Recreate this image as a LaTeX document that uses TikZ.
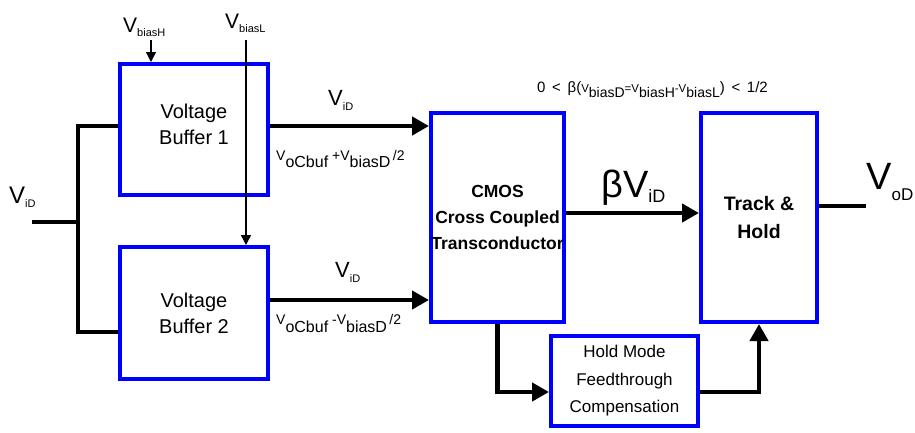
\documentclass[tikz,border=0pt]{standalone}
\usepackage{fontspec}
\setmainfont{Liberation Sans}
\usetikzlibrary{arrows.meta}
\definecolor{boxblue}{RGB}{0,0,255}
\newcommand{\fsz}[1]{\fontsize{#1}{#1}\selectfont}
\newcommand{\lowr}[3]{\raisebox{-#1}{\fsz{#2}#3}}
\begin{document}
\begin{tikzpicture}[x=1pt,y=-1pt,
  blk/.style={draw=boxblue, line width=4pt, fill=white, align=center, inner sep=0pt},
  wire/.style={line width=4.5pt},
  bigarrow/.style={wire, -{Triangle[length=17pt,width=18pt]}},
  thinline/.style={line width=1.4pt},
  thinarrow/.style={thinline, -{Triangle[length=10pt,width=10pt]}},
  lbl/.style={inner sep=0pt, anchor=base west}
]
\useasboundingbox (0,0) rectangle (915,432);

% blocks
\node[blk, minimum width=148pt, minimum height=131pt, font=\fontsize{20}{26}\selectfont] (buf1) at (194,129.5) {Voltage\\Buffer 1\\[-16pt]\mbox{}};
\node[blk, minimum width=148pt, minimum height=132pt, font=\fontsize{20}{26}\selectfont] (buf2) at (194,313) {Voltage\\Buffer 2};
\node[blk, minimum width=133pt, minimum height=209pt, font=\bfseries\fontsize{17.5}{26}\selectfont] (cmos) at (497.5,217.5) {CMOS\\Cross Coupled\\Transconductor};
\node[blk, minimum width=116pt, minimum height=209pt, font=\bfseries\fontsize{19.5}{28}\selectfont] (th) at (759,217.5) {Track \&\\Hold};
\node[blk, minimum width=147pt, minimum height=90pt, font=\fontsize{17}{27.5}\selectfont] (hold) at (624.5,381) {Hold Mode\\Feedthrough\\Compensation};

% coordinates
\coordinate (vin) at (32,222);
\coordinate (jm) at (78,222);
\coordinate (j1) at (78,126);
\coordinate (j2) at (78,332);
\coordinate (hb) at (151,40);
\coordinate (lb) at (246,40);
\coordinate (a1) at (0,126);
\coordinate (a2) at (0,300);
\coordinate (bv) at (0,213);
\coordinate (vout) at (866,206);

% input
\draw[wire] (vin) -- (jm);
\draw[wire, line join=miter] (buf1.west |- j1) -- (j1) -- (j2) -- (buf2.west |- j2);

% bias lines
\draw[thinarrow] (hb) -- (hb |- buf1.north);
\draw[thinarrow] (lb) -- (lb |- buf2.north);

% main arrows
\draw[bigarrow] (buf1.east |- a1) -- (cmos.west |- a1);
\draw[bigarrow] (buf2.east |- a2) -- (cmos.west |- a2);
\draw[bigarrow] (cmos.east |- bv) -- (th.west |- bv);
\draw[wire] (th.east |- vout) -- (vout);

% feedthrough path
\draw[bigarrow] (cmos.south) |- ([yshift=-11pt]hold.west);
\draw[bigarrow] ([yshift=-11pt]hold.east) -| (th.south);

% labels
\node[lbl] (l-vid) at (9,203) {\fsz{24}V\lowr{4pt}{11}{iD}};
\node[lbl] (l-vbh) at (123,32) {\fsz{21}V\lowr{4pt}{11}{biasH}};
\node[lbl] (l-vbl) at (225,28) {\fsz{21}V\lowr{4pt}{11}{biasL}};
\node[lbl] (l-vid1) at (328,105) {\fsz{22}V\lowr{5pt}{11}{iD}};
\node[lbl] (l-vid2) at (335,277) {\fsz{22}V\lowr{5pt}{11}{iD}};
\node[lbl] (l-oc1) at (276,160) {\fsz{14}V\lowr{7pt}{16}{oCbuf}\ +V\lowr{7pt}{16}{biasD}\,/2};
\node[lbl] (l-oc2) at (276,324) {\fsz{14}V\lowr{8pt}{16}{oCbuf}\ -V\lowr{8pt}{16}{biasD}\,/2};
\node[lbl] (l-bv) at (601,197) {\fsz{38}βV\lowr{5pt}{18}{iD}};
\node[lbl] (l-vod) at (866,189) {\fsz{38}V\lowr{11pt}{17}{oD}};
\node[lbl] (l-form) at (537,92) {\fsz{15}0 \,<\, β(\fsz{11.5}V\lowr{5pt}{14}{biasD}\fsz{11.5}=V\lowr{5pt}{14}{biasH}\fsz{11.5}-V\lowr{5pt}{14}{biasL}\fsz{15}) \,<\, 1/2};
\end{tikzpicture}
\end{document}
